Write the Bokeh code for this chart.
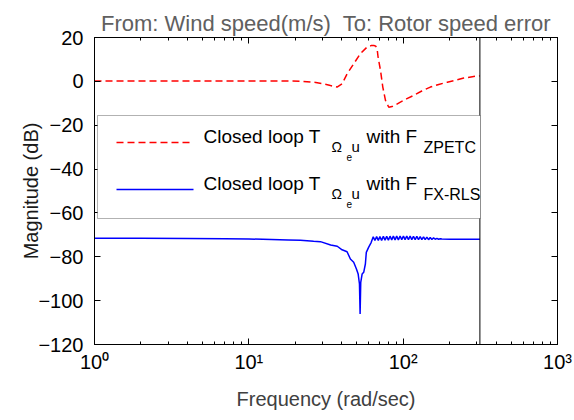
from bokeh.plotting import figure
from bokeh.models import (LogAxis, LinearAxis, FixedTicker, Span, BoxAnnotation,
                          Label, Range1d)
from bokeh.embed import file_html
from bokeh.resources import INLINE

# ---------------- data ----------------
title_text = "From: Wind speed(m/s)\u00a0 To: Rotor speed error"
x_label = "Frequency (rad/sec)"
y_label = "Magnitude (dB)"
y_ticks = [-120, -100, -80, -60, -40, -20, 0, 20]
x_ticks = [1, 10, 100, 1000]
x_tick_labels = ["10\u2070", "10\u00b9", "10\u00b2", "10\u00b3"]
nyquist = 314.16

zpetc_freq = [1, 2, 5, 10, 16, 21.6, 26.3, 30.5, 33.8, 37.3, 40.2, 43.3, 47.8,
              52.8, 58.3, 62.0, 64.5, 66.5, 67.8, 68.8, 71.3, 73.8, 76.8, 80.7,
              84.7, 90.0, 95.9, 105, 117, 132, 150, 170, 193, 220, 247, 275,
              300, 314.16]
zpetc_mag = [0.2, 0.2, 0.2, 0.2, 0.2, 0.1, -0.4, -1.1, -1.9, -2.6, -1.1, 3.4, 8.0,
             12.6, 15.6, 16.3, 16.4, 16.0, 14.8, 11.0, 5.0, -2.6, -8.7, -11.8,
             -11.5, -10.6, -9.5, -8.0, -6.4, -4.4, -2.6, -1.4, -0.4, 0.6, 1.5, 2.0,
             2.4, 2.5]

rls_freq = [1, 2, 4, 7, 10, 14, 18, 21.6, 26.3, 29.1, 33.9, 37.4, 40.2, 43.3,
            45.5, 47.8, 49.8, 51.1, 52.1, 52.6, 53.1, 54.2, 55.5, 56.9, 57.7,
            59.7, 62.0,
            64.0, 65.6, 67.3, 69.0, 70.7, 72.5, 74.4, 76.3, 78.2, 80.2, 82.2,
            84.3, 86.4, 88.6, 90.8, 93.1, 95.5, 97.9, 100.4, 102.9, 105.5, 108.2,
            110.9, 113.7, 116.6, 119.6, 122.6, 125.7, 128.9, 132.1, 135.5, 138.9,
            142.4, 146.0, 149.7, 153.5, 157.4, 161.4, 165.5, 169.6, 173.9, 178.3,
            200, 250, 314.16]
rls_mag = [-71.6, -71.6, -71.7, -71.8, -71.9, -72.1, -72.3, -72.5, -72.9, -73.1,
           -74.6, -75.2, -76.8, -77.7, -81.0, -82.5, -85.6, -87.9, -92.4, -106.1,
           -91.7, -87.9, -87.1, -83.3, -78.0, -75.7, -73.5,
           -70.9, -72.6, -70.8, -72.5, -70.8, -72.5, -70.7, -72.4, -70.7, -72.4,
           -70.6, -72.3, -70.6, -72.3, -70.6, -72.3, -70.6, -72.2, -70.6, -72.2,
           -70.6, -72.2, -70.6, -72.2, -70.7, -72.2, -70.7, -72.2, -70.8, -72.2,
           -70.9, -72.2, -71.0, -72.2, -71.2, -72.1, -71.4, -72.0, -71.6, -72.0,
           -71.8, -71.9, -72.0, -72.0, -72.0]

legend_main = "Closed loop T"
legend_sub1 = "\u03a9"
legend_subsub = "e"
legend_sub2 = "u"
legend_with = "with F"
legend_filters = ["ZPETC", "FX-RLS"]

# ---------------- layout helpers (pixel -> data, for annotations) ----------------
FL, FR, FT, FB = 94, 557, 37, 344
W, H = 574, 420


def fx(px):
    return 10 ** ((px - FL) / (FR - FL) * 3)


def dy(py):
    return 20 - (py - FT) / (FB - FT) * 140


FONT = "Liberation Sans"

p = figure(width=W, height=H, x_axis_type="log",
           x_range=Range1d(1, 1000), y_range=Range1d(-120, 20),
           output_backend="svg", toolbar_location=None,
           min_border_left=FL, min_border_right=W - FR,
           min_border_top=FT, min_border_bottom=H - FB)
p.grid.visible = False
p.outline_line_color = "black"
p.outline_line_width = 1
p.background_fill_color = "white"
p.border_fill_color = "white"

minor = [m * 10 ** k for k in range(3) for m in range(2, 10)]
xticker = FixedTicker(ticks=x_ticks, minor_ticks=minor)
yticker = FixedTicker(ticks=y_ticks)

xa = p.xaxis[0]
xa.ticker = xticker
xa.major_label_overrides = {t: l for t, l in zip(x_ticks, x_tick_labels)}
ya = p.yaxis[0]
ya.ticker = yticker

for ax in (xa, ya):
    ax.major_tick_in = 6
    ax.major_tick_out = 0
    ax.minor_tick_in = 3
    ax.minor_tick_out = 0
    ax.axis_line_color = "black"
    ax.major_tick_line_color = "black"
    ax.minor_tick_line_color = "black"
    ax.major_label_text_font = FONT
    ax.major_label_text_font_size = "20px"
    ax.major_label_text_color = "black"
    ax.axis_label_text_font = FONT
    ax.axis_label_text_font_size = "20px"
    ax.axis_label_text_font_style = "normal"

xa.axis_label = x_label
xa.axis_label_text_color = "#404040"
xa.major_label_standoff = 6
xa.axis_label_standoff = 12
ya.axis_label = y_label
ya.axis_label_text_color = "#1a1a1a"
ya.major_label_standoff = 11
ya.axis_label_standoff = -7

top = LogAxis(ticker=xticker, major_label_text_font_size="1px",
              major_label_text_alpha=0, major_label_standoff=0,
              major_tick_in=6, major_tick_out=0,
              minor_tick_in=3, minor_tick_out=0, axis_line_color="black")
right = LinearAxis(ticker=yticker, major_label_text_font_size="1px",
                   major_label_text_alpha=0, major_label_standoff=0,
                   major_tick_in=6, major_tick_out=0,
                   axis_line_color="black")
p.add_layout(top, "above")
p.add_layout(right, "right")

p.title.text = title_text
p.title.text_font = FONT
p.title.text_font_size = "22px"
p.title.text_font_style = "normal"
p.title.text_color = "#606060"
p.title.align = "center"
p.title.vertical_align = "top"
p.title.standoff = 0

# curves
p.line(zpetc_freq, zpetc_mag, line_color="#ff0000", line_width=1.5, line_dash="7 4")
p.line(rls_freq, rls_mag, line_color="#0000ff", line_width=1.5)

# nyquist line
p.add_layout(Span(location=nyquist, dimension="height", line_color="black", line_width=1))

# legend box
p.add_layout(BoxAnnotation(left=fx(97), right=fx(480), top=dy(115), bottom=dy(218),
                           fill_color="white", fill_alpha=1.0,
                           line_color="black", line_width=1, level="annotation"))

row_y = [142, 189]
colors = ["#ff0000", "#0000ff"]
dashes = ["7 4", "solid"]
for i, (ry, col, dsh, filt) in enumerate(zip(row_y, colors, dashes, legend_filters)):
    p.line([fx(116), fx(193)], [dy(ry), dy(ry)], line_color=col, line_width=1.5,
           line_dash=dsh, level="overlay")
    base = ry - 6
    p.add_layout(Label(x=fx(203), y=dy(base), text=legend_main, text_font=FONT,
                       text_font_size="19px", text_baseline="alphabetic",
                       text_color="black", level="overlay"))
    p.add_layout(Label(x=fx(331), y=dy(base + 10), text=legend_sub1, text_font=FONT,
                       text_font_size="14px", text_baseline="alphabetic",
                       text_color="black", level="overlay"))
    p.add_layout(Label(x=fx(346), y=dy(base + 20), text=legend_subsub, text_font=FONT,
                       text_font_size="10px", text_baseline="alphabetic",
                       text_color="black", level="overlay"))
    p.add_layout(Label(x=fx(351), y=dy(base + 10), text=legend_sub2, text_font=FONT,
                       text_font_size="15px", text_baseline="alphabetic",
                       text_color="black", level="overlay"))
    p.add_layout(Label(x=fx(366), y=dy(base), text=legend_with, text_font=FONT,
                       text_font_size="19px", text_baseline="alphabetic",
                       text_color="black", level="overlay"))
    p.add_layout(Label(x=fx(423), y=dy(base + 11), text=filt, text_font=FONT,
                       text_font_size="16px", text_baseline="alphabetic",
                       text_color="black", level="overlay"))

open("out.html", "w").write(file_html(p, INLINE))
